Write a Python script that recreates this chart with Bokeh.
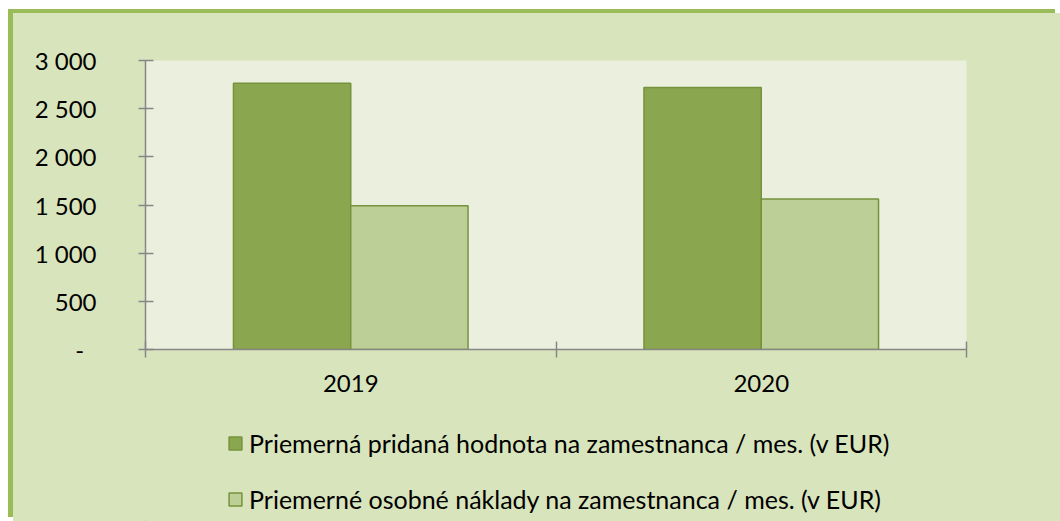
from bokeh.plotting import figure
from bokeh.models import Range1d, FixedTicker, Legend, LegendItem, ColumnDataSource
from bokeh.transform import dodge
from bokeh.layouts import column
from bokeh.embed import file_html
from bokeh.resources import INLINE

years = ["2019", "2020"]
added_value = [2764, 2719]
personnel_costs = [1493, 1563]
y_ticks = [0, 500, 1000, 1500, 2000, 2500, 3000]
y_tick_labels = ["-\u00a0\u00a0", "500", "1 000", "1 500", "2 000", "2 500", "3 000"]
series_names = [
    "Priemerná pridaná hodnota na zamestnanca / mes. (v EUR)",
    "Priemerné osobné náklady na zamestnanca / mes. (v EUR)",
]
series_fill = ["#8AA64E", "#BBCF96"]
series_line = "#76923C"

FONT = "Lato"
FS = "24px"
AXIS_GRAY = "#868686"
OUTER = "#D8E4BC"
BORDER = "#9BBB59"

centers = [i + 0.5 for i in range(len(years))]
src = ColumnDataSource(dict(x=centers, a=added_value, b=personnel_costs))

p = figure(
    frame_width=821, frame_height=289,
    x_range=Range1d(0, len(years)), y_range=Range1d(0, 3000),
    output_backend="svg", toolbar_location=None,
    min_border_left=132, min_border_right=94, min_border_top=47, min_border_bottom=61,
)
p.background_fill_color = "#EBF0DE"
p.border_fill_color = OUTER
p.outline_line_color = None
p.grid.visible = False

bw = 1 / 3.5
r1 = p.vbar(x=dodge("x", -bw / 2, range=p.x_range), top="a", width=bw, source=src,
            fill_color=series_fill[0], line_color=series_line, line_width=1.5)
r2 = p.vbar(x=dodge("x", bw / 2, range=p.x_range), top="b", width=bw, source=src,
            fill_color=series_fill[1], line_color=series_line, line_width=1.5)

# y axis
ya = p.yaxis[0]
ya.ticker = FixedTicker(ticks=y_ticks, minor_ticks=[])
ya.major_label_overrides = {t: l for t, l in zip(y_ticks, y_tick_labels)}
ya.axis_line_color = AXIS_GRAY
ya.axis_line_width = 1.5
ya.major_tick_line_color = AXIS_GRAY
ya.major_tick_line_width = 1.5
ya.major_tick_in = 8
ya.major_tick_out = 7
ya.major_label_standoff = 42
ya.major_label_text_font = FONT
ya.major_label_text_font_size = FS
ya.major_label_text_color = "black"

# x axis: labels centred, ticks at category boundaries
xa = p.xaxis[0]
xa.ticker = FixedTicker(ticks=centers, minor_ticks=list(range(len(years) + 1)))
xa.major_label_overrides = {c: y for c, y in zip(centers, years)}
xa.axis_line_color = AXIS_GRAY
xa.axis_line_width = 1.5
xa.major_tick_line_color = None
xa.major_tick_in = 0
xa.major_tick_out = 0
xa.minor_tick_line_color = AXIS_GRAY
xa.minor_tick_line_width = 1.5
xa.minor_tick_in = 8
xa.minor_tick_out = 8
xa.major_label_standoff = 17
xa.major_label_text_font = FONT
xa.major_label_text_font_size = FS
xa.major_label_text_color = "black"

# legend strip below the chart (same horizontal borders so frames line up)
q = figure(
    frame_width=821, frame_height=111,
    x_range=Range1d(0, 1), y_range=Range1d(0, 1),
    output_backend="svg", toolbar_location=None,
    x_axis_location=None, y_axis_location=None,
    min_border_left=132, min_border_right=94, min_border_top=0, min_border_bottom=0,
)
q.background_fill_color = None
q.border_fill_color = None
q.outline_line_color = None
q.grid.visible = False
# swatch renderers for the legend only (kept outside the visible ranges)
k1 = q.vbar(x=[-5], top=[-5], bottom=[-6], width=0.1,
            fill_color=series_fill[0], line_color=series_line, line_width=1.5)
k2 = q.vbar(x=[-5], top=[-5], bottom=[-6], width=0.1,
            fill_color=series_fill[1], line_color=series_line, line_width=1.5)

legend = Legend(
    items=[LegendItem(label=series_names[0], renderers=[k1]),
           LegendItem(label=series_names[1], renderers=[k2])],
    orientation="vertical", location=(82, 7),
    background_fill_alpha=0, border_line_alpha=0,
    label_text_font=FONT, label_text_font_size="25px", label_text_color="black",
    glyph_width=16, glyph_height=16, label_standoff=6,
    spacing=26, padding=0, margin=0,
)
q.add_layout(legend)

layout = column(p, q, spacing=0)
layout.styles = {
    "margin-left": "13px", "margin-top": "13px",
    "background-color": OUTER,
    "box-shadow": f"-5px -4px 0px 0px {BORDER}",
}
open("out.html", "w").write(file_html(layout, INLINE))
